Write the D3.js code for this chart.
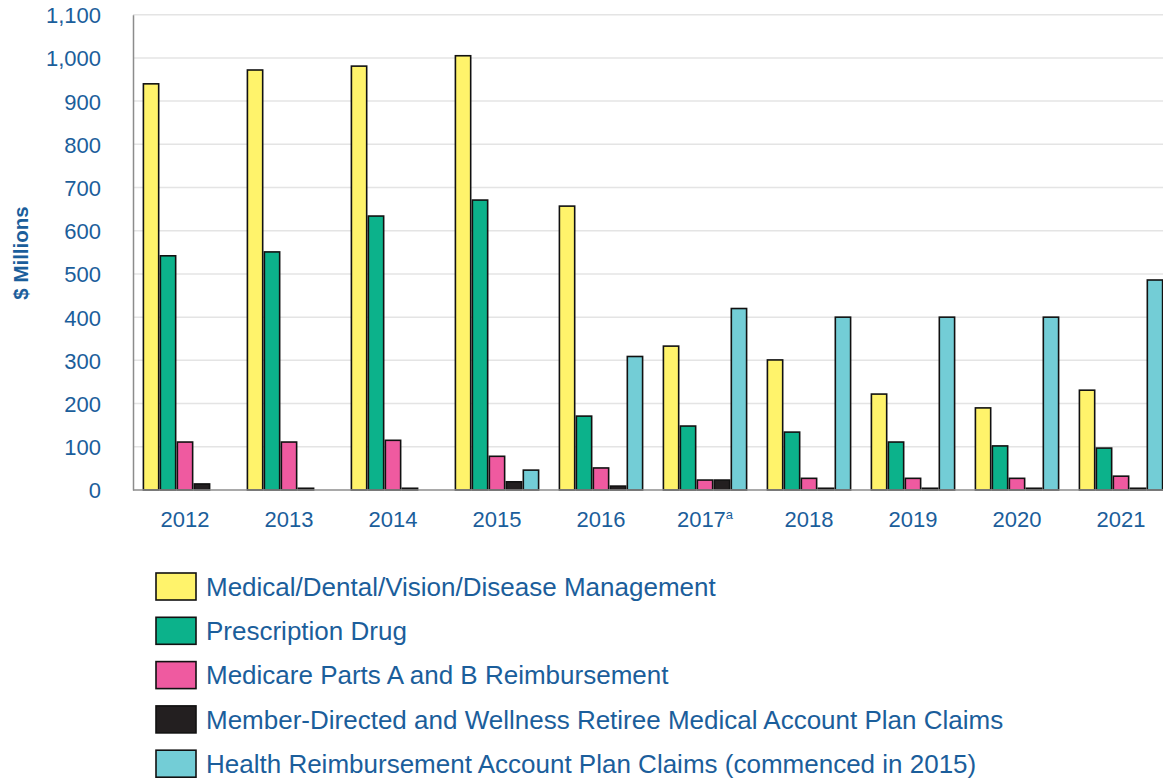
<!DOCTYPE html>
<html>
<head>
<meta charset="utf-8">
<script src="https://cdn.jsdelivr.net/npm/d3@7"></script>
<style>
  body { margin: 0; background: #fff; }
  svg { font-family: "Liberation Sans", Arial, sans-serif; }
</style>
</head>
<body>
<div id="chart"></div>
<script>
// chart data
var years = ["2012", "2013", "2014", "2015", "2016", "2017", "2018", "2019", "2020", "2021"];
var seriesNames = [
  "Medical/Dental/Vision/Disease Management",
  "Prescription Drug",
  "Medicare Parts A and B Reimbursement",
  "Member-Directed and Wellness Retiree Medical Account Plan Claims",
  "Health Reimbursement Account Plan Claims (commenced in 2015)"
];
var medical      = [940, 972, 981, 1005, 657, 333, 301, 222, 190, 231];
var prescription = [542, 551, 634, 671, 171, 148, 134, 111, 102, 97];
var medicare     = [111, 111, 115, 78, 51, 23, 27, 27, 27, 32];
var memberDir    = [14, 4, 4, 19, 9, 23, 4, 4, 4, 4];
var hra          = [0, 0, 0, 46, 309, 420, 400, 400, 400, 486];
var yTicks = [0, 100, 200, 300, 400, 500, 600, 700, 800, 900, 1000, 1100];

var colors = ["#fff36b", "#0cb28b", "#ef5aa0", "#231f20", "#73cdd6"];
var textBlue = "#1b5e9b";

(function() {
  var allSeries = [medical, prescription, medicare, memberDir, hra];

  var W = 1163, H = 779;
  var svg = d3.select("#chart").append("svg")
    .attr("width", W)
    .attr("height", H);

  var plotLeft = 133, plotRight = 1173, plotTop = 14.7, plotBottom = 490;

  var x0 = d3.scaleBand()
    .domain(years)
    .range([plotLeft, plotRight])
    .paddingInner(0.2)
    .paddingOuter(0.1);

  var x1 = d3.scaleBand()
    .domain(d3.range(seriesNames.length))
    .range([0, x0.bandwidth()])
    .paddingInner(0.1);

  var y = d3.scaleLinear()
    .domain([0, 1100])
    .range([plotBottom, plotTop]);

  // gridlines
  svg.append("g")
    .selectAll("line")
    .data(yTicks.filter(function(d) { return d > 0; }))
    .enter().append("line")
    .attr("x1", plotLeft).attr("x2", W)
    .attr("y1", function(d) { return y(d); })
    .attr("y2", function(d) { return y(d); })
    .attr("stroke", "#e4e4e4")
    .attr("stroke-width", 1.5);

  // y axis
  var yAxis = svg.append("g")
    .attr("transform", "translate(" + plotLeft + ",0)")
    .call(d3.axisLeft(y).tickValues(yTicks).tickSize(0).tickPadding(32)
      .tickFormat(d3.format(",")));
  yAxis.select(".domain").attr("stroke", "#8c8c8c").attr("stroke-width", 1.5);
  yAxis.selectAll("text")
    .attr("fill", textBlue)
    .style("font-size", "22px")
    .attr("dy", "0.36em");

  // y title
  svg.append("text")
    .attr("transform", "translate(28,253) rotate(-90)")
    .attr("text-anchor", "middle")
    .attr("fill", textBlue)
    .style("font-size", "20.5px")
    .style("font-weight", "bold")
    .text("$ Millions");

  // bars
  var groups = svg.append("g")
    .selectAll("g")
    .data(years)
    .enter().append("g")
    .attr("transform", function(d) { return "translate(" + x0(d) + ",0)"; });

  groups.selectAll("rect")
    .data(function(d, i) {
      return allSeries.map(function(s, k) { return {k: k, v: s[i]}; })
        .filter(function(e) { return e.v > 0; });
    })
    .enter().append("rect")
    .attr("x", function(d) { return x1(d.k); })
    .attr("y", function(d) { return y(d.v); })
    .attr("width", x1.bandwidth())
    .attr("height", function(d) { return y(0) - y(d.v); })
    .attr("fill", function(d) { return colors[d.k]; })
    .attr("stroke", "#111")
    .attr("stroke-width", 1.6);

  // baseline
  svg.append("line")
    .attr("x1", plotLeft).attr("x2", W)
    .attr("y1", y(0)).attr("y2", y(0))
    .attr("stroke", "#8c8c8c")
    .attr("stroke-width", 1.5);

  // x labels
  var xl = svg.append("g")
    .selectAll("text")
    .data(years)
    .enter().append("text")
    .attr("x", function(d) { return x0(d) + x0.bandwidth() / 2; })
    .attr("y", 527)
    .attr("text-anchor", "middle")
    .attr("fill", textBlue)
    .style("font-size", "22px")
    .text(function(d) { return d; });
  xl.filter(function(d) { return d === "2017"; })
    .append("tspan")
    .attr("dy", "-0.6em")
    .style("font-size", "13px")
    .text("a");

  // legend
  var legend = svg.append("g")
    .attr("transform", "translate(156,573)");
  var rows = legend.selectAll("g")
    .data(seriesNames)
    .enter().append("g")
    .attr("transform", function(d, i) { return "translate(0," + (i * 44.3) + ")"; });
  rows.append("rect")
    .attr("width", 40)
    .attr("height", 27)
    .attr("fill", function(d, i) { return colors[i]; })
    .attr("stroke", "#111")
    .attr("stroke-width", 1.6);
  rows.append("text")
    .attr("x", 50)
    .attr("y", 13.5)
    .attr("dy", "0.36em")
    .attr("fill", textBlue)
    .style("font-size", "26px")
    .text(function(d) { return d; });
})();
</script>
</body>
</html>
